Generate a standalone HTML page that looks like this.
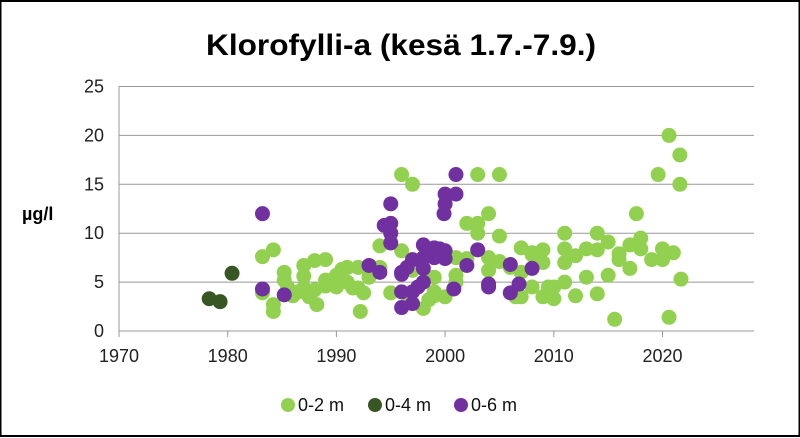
<!DOCTYPE html>
<html><head><meta charset="utf-8"><style>
html,body{margin:0;padding:0;background:#fff}
svg{display:block;font-family:"Liberation Sans",sans-serif}
</style></head><body>
<svg id="s" width="800" height="438" viewBox="0 0 800 438" xmlns="http://www.w3.org/2000/svg">
<rect x="0.5" y="1" width="799" height="435" fill="#fff" stroke="#000" stroke-width="2"/>
<text x="401" y="55" font-size="30" font-weight="bold" text-anchor="middle" textLength="390" lengthAdjust="spacingAndGlyphs">Klorofylli-a (kesä 1.7.-7.9.)</text>
<g id="grid" stroke="#999" stroke-width="1"></g>
<g id="lab" font-size="18" fill="#222"></g>
<text x="22" y="220" font-size="18" font-weight="bold">µg/l</text>
<g id="pts"></g>
<g font-size="18" fill="#111">
<circle cx="288" cy="405" r="7" fill="#92d050"/><text x="298" y="411">0-2 m</text>
<circle cx="375" cy="405" r="7" fill="#375623"/><text x="385" y="411">0-4 m</text>
<circle cx="461" cy="405" r="7" fill="#7030a0"/><text x="471" y="411">0-6 m</text>
</g>
</svg>
<script>
var NS="http://www.w3.org/2000/svg";
function el(p,t,a,txt){var e=document.createElementNS(NS,t);for(var k in a)e.setAttribute(k,a[k]);if(txt)e.textContent=txt;document.getElementById(p).appendChild(e);}
function X(y){return 119+(y-1970)*10.87;}function Y(v){return 331-v*9.78;}
for(var v=0;v<=25;v+=5){if(v>0)el("grid","line",{x1:119,x2:754,y1:Y(v),y2:Y(v)});el("lab","text",{x:104,y:Y(v)+6,"text-anchor":"end"},""+v);}
el("grid","line",{x1:119,x2:754,y1:331,y2:331});
el("grid","line",{x1:119,x2:119,y1:86,y2:331});
for(var y=1970;y<=2020;y+=10){el("grid","line",{x1:X(y),x2:X(y),y1:331,y2:337});el("lab","text",{x:X(y),y:362,"text-anchor":"middle"},""+y);}
var g=[[1983.2,7.6],[1983.2,3.9],[1984.2,8.3],[1984.2,2.7],[1984.2,2],[1985.2,6],[1985.2,5.2],[1985.5,4.5],[1986,3.6],[1986.5,4],[1987,6.7],[1987,5.6],[1987,4.4],[1987.5,3.5],[1988,7.2],[1988,4.2],[1988.2,2.7],[1989,7.3],[1989,5.2],[1989,4.6],[1990,5.7],[1990,4.5],[1990.5,6.3],[1991,6.5],[1991,5],[1991.5,4.4],[1992,6.5],[1992,4.4],[1992.2,2],[1992.5,3.9],[1993,5.5],[1994,8.7],[1994,6.5],[1995,3.9],[1996,8.2],[1996,16],[1997,15],[1996.5,3.8],[1997,6.2],[1998,2.3],[1998.5,3.2],[1999,5.5],[1999,4],[1999,3.6],[2000,3.5],[2001,7.5],[2001,5.7],[2001,5],[2002,11],[2002,7.4],[2003,16],[2003,10],[2003,11],[2004,12],[2004,7.5],[2004,6.2],[2005,16],[2005,9.7],[2005,7.1],[2006,6.5],[2006.5,3.5],[2007,8.5],[2007,6],[2007,3.5],[2008,8],[2008,7.8],[2008,4.5],[2009,8.3],[2009,7],[2009,3.5],[2009.5,4.5],[2010,3.3],[2010,4.5],[2011,10],[2011,8.4],[2011,7],[2011,5],[2012,7.7],[2012,3.6],[2013,8.4],[2013,5.5],[2014,8.3],[2014,10],[2014,3.8],[2015,9.1],[2015,5.7],[2016,7.9],[2016,7.3],[2015.6,1.2],[2017,6.4],[2017,8.8],[2018,9.5],[2018,8.4],[2017.6,12],[2019,7.3],[2020,8.4],[2020,7.3],[2019.6,16],[2021,8],[2020.6,1.4],[2020.6,20],[2021.6,18],[2021.6,15],[2021.7,5.3]];
var d=[[1978.3,3.3],[1979.3,3.0],[1980.4,5.9]];
var p=[[1983.2,12],[1983.2,4.3],[1985.2,3.7],[1993,6.7],[1994,6],[1994.4,10.8],[1995,11],[1995,13],[1995,9],[1995,10],[1996,6],[1996,5.8],[1996,4],[1996,2.4],[1996.5,6.5],[1997,7.3],[1997,4],[1997,2.8],[1997.5,4.5],[1998,7.5],[1998,8.8],[1998,6.4],[1998,5],[1998.5,8],[1999,8.5],[1999,7.5],[1999.5,8.4],[2000,8.2],[2000,7.4],[1999.9,12],[2000,13],[2000,14],[2001,14],[2001,16],[2000.8,4.3],[2002,6.7],[2003,8.3],[2004,4.8],[2004,4.5],[2006,6.8],[2006,3.9],[2006.8,4.8],[2008,6.4]];
[[g,"#92d050"],[d,"#375623"],[p,"#7030a0"]].forEach(function(s){s[0].forEach(function(q){el("pts","circle",{cx:X(q[0]),cy:Y(q[1]),r:7.5,fill:s[1]});});});
</script>
</body></html>
